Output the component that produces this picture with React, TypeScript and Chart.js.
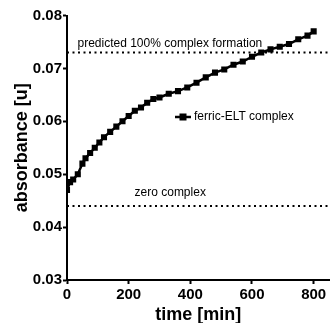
import React, { useEffect, useRef } from 'react';
import { Chart, registerables } from 'chart.js';

Chart.register(...registerables);

// ---- data ----
const times = [0, 10, 20, 35, 50, 60, 75, 90, 105, 120, 140, 160, 180, 200, 220, 240, 260, 280, 300, 330, 360, 390, 420, 450, 480, 510, 540, 570, 600, 630, 660, 690, 720, 750, 780, 800];
const absorbance = [0.047, 0.0485, 0.049, 0.050, 0.052, 0.053, 0.054, 0.055, 0.056, 0.057, 0.058, 0.059, 0.060, 0.061, 0.062, 0.0626, 0.0635, 0.0642, 0.0645, 0.0652, 0.0657, 0.0664, 0.0673, 0.0683, 0.0692, 0.0698, 0.0707, 0.0713, 0.0722, 0.0730, 0.0736, 0.0741, 0.0746, 0.0755, 0.0762, 0.0770];
const predictedLevel = 0.073;
const zeroLevel = 0.044;
const xTickValues = [0, 200, 400, 600, 800];
const yTickValues = [0.03, 0.04, 0.05, 0.06, 0.07, 0.08];
const seriesLabel = 'ferric-ELT complex';
const predictedLabel = 'predicted 100% complex formation';
const zeroLabel = 'zero complex';
const xTitle = 'time [min]';
const yTitle = 'absorbance [u]';
const xMin = 0;
const xMax = 852;

const FONT = '"Liberation Sans", Arial, sans-serif';

export default function App() {
  const ref = useRef<HTMLCanvasElement | null>(null);

  useEffect(() => {
    if (!ref.current) return;

    const annotations = {
      id: 'annotations',
      afterDatasetsDraw(chart: any) {
        const { ctx, chartArea } = chart;
        const xs = chart.scales.x;
        const ys = chart.scales.y;
        ctx.save();
        ctx.fillStyle = '#000';
        ctx.font = `12px ${FONT}`;
        ctx.textBaseline = 'middle';
        ctx.textAlign = 'left';
        ctx.fillText(predictedLabel, xs.getPixelForValue(34), ys.getPixelForValue(0.0747));
        ctx.fillText(zeroLabel, xs.getPixelForValue(219), ys.getPixelForValue(0.0465));
        // legend
        const lx = chartArea.left + 108;
        const ly = chartArea.top + 101.5;
        ctx.strokeStyle = '#000';
        ctx.lineWidth = 2.5;
        ctx.beginPath();
        ctx.moveTo(lx, ly);
        ctx.lineTo(lx + 16, ly);
        ctx.stroke();
        ctx.fillRect(lx + 4.5, ly - 3.5, 7, 7);
        ctx.fillText(seriesLabel, lx + 19, ly);
        ctx.restore();
      },
    };

    const chart = new Chart(ref.current, {
      type: 'scatter',
      data: {
        datasets: [
          {
            label: seriesLabel,
            data: times.map((t, i) => ({ x: t, y: absorbance[i] })),
            showLine: true,
            borderColor: '#000',
            backgroundColor: '#000',
            borderWidth: 2.5,
            pointStyle: 'rect',
            pointRadius: 4.3,
            pointBorderWidth: 0,
            tension: 0,
            order: 0,
          },
          {
            label: predictedLabel,
            data: [{ x: xMin, y: predictedLevel }, { x: xMax, y: predictedLevel }],
            showLine: true,
            borderColor: '#000',
            borderWidth: 2,
            borderDash: [2, 3.5],
            pointRadius: 0,
            order: 1,
          },
          {
            label: zeroLabel,
            data: [{ x: xMin, y: zeroLevel }, { x: xMax, y: zeroLevel }],
            showLine: true,
            borderColor: '#000',
            borderWidth: 2,
            borderDash: [2, 3.5],
            pointRadius: 0,
            order: 1,
          },
        ],
      },
      options: {
        responsive: false,
        animation: false,
        layout: { padding: { top: 15.5, right: 0, bottom: 0, left: 0 } },
        plugins: {
          legend: { display: false },
          tooltip: { enabled: false },
        },
        scales: {
          x: {
            type: 'linear',
            min: xMin,
            max: xMax,
            afterBuildTicks: (scale: any) => {
              scale.ticks = xTickValues.map((v) => ({ value: v }));
            },
            afterFit: (scale: any) => {
              scale.height = 43;
            },
            grid: {
              display: true,
              drawOnChartArea: false,
              drawTicks: true,
              tickLength: 4,
              tickWidth: 2,
              tickColor: '#000',
              color: '#000',
            },
            border: { display: true, color: '#000', width: 2 },
            ticks: {
              color: '#000',
              padding: 2,
              maxRotation: 0,
              font: { family: FONT, size: 15, weight: 'bold', lineHeight: 1.2 },
              callback: (v: any) => String(v),
            },
            title: {
              display: true,
              text: xTitle,
              color: '#000',
              padding: { top: 0, bottom: -1 },
              font: { family: FONT, size: 18, weight: 'bold', lineHeight: 1 },
            },
          },
          y: {
            type: 'linear',
            min: yTickValues[0],
            max: yTickValues[yTickValues.length - 1],
            afterBuildTicks: (scale: any) => {
              scale.ticks = yTickValues.map((v) => ({ value: v }));
            },
            afterFit: (scale: any) => {
              scale.width = 67;
            },
            grid: {
              display: true,
              drawOnChartArea: false,
              drawTicks: true,
              tickLength: 4,
              tickWidth: 2,
              tickColor: '#000',
              color: '#000',
            },
            border: { display: true, color: '#000', width: 2 },
            ticks: {
              color: '#000',
              padding: 1,
              font: { family: FONT, size: 15, weight: 'bold', lineHeight: 1.2 },
              callback: (v: any) => Number(v).toFixed(2),
            },
            title: {
              display: true,
              text: yTitle,
              color: '#000',
              padding: { top: 13, bottom: 0 },
              font: { family: FONT, size: 18, weight: 'bold', lineHeight: 1 },
            },
          },
        },
      },
      plugins: [annotations],
    } as any);

    return () => chart.destroy();
  }, []);

  return (
    <div style={{ position: 'absolute', left: 0, top: 0, width: 334, height: 323, background: '#fff' }}>
      <canvas ref={ref} width={334} height={323} />
    </div>
  );
}
